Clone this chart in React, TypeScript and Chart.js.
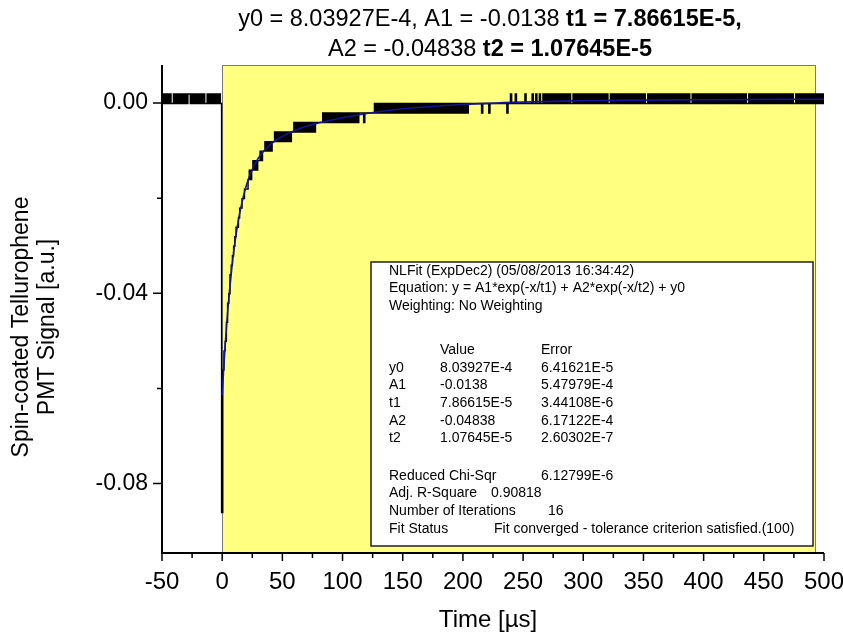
import React, { useEffect, useRef } from "react";
import { Chart, registerables } from "chart.js";

Chart.register(...registerables);

// ---------- axis ticks ----------
const xTickValues = [-50, 0, 50, 100, 150, 200, 250, 300, 350, 400, 450, 500];
const xTickLabels = ["-50", "0", "50", "100", "150", "200", "250", "300", "350", "400", "450", "500"];
const xMinorTickValues = [-25, 25, 75, 125, 175, 225, 275, 325, 375, 425, 475];
const yTickValues = [-0.08, -0.04, 0];
const yTickLabels = ["-0.08", "-0.04", "0.00"];
const yMinorTickValues = [-0.06, -0.02];

// ---------- fit window (yellow region), µs ----------
const fitWindowUs = [0, 493];

// ---------- digitizer levels (signal values, a.u.) ----------
const adcLevels = [
  0.0019, -0.0001, -0.0021, -0.0041, -0.0061, -0.0081, -0.0101, -0.0121, -0.0141, -0.0161,
  -0.0181, -0.0201, -0.0221, -0.0241, -0.0261, -0.0281, -0.0301, -0.0321, -0.0341, -0.0361,
  -0.0381, -0.0401, -0.0421, -0.0441, -0.0461, -0.0481, -0.0501, -0.0521, -0.0541, -0.0561,
  -0.0581, -0.0601, -0.0621, -0.0641, -0.0661, -0.0681, -0.0701, -0.0721, -0.0741, -0.0761,
  -0.0781, -0.0801, -0.0821, -0.0841, -0.0861,
];

// sampling grid of the recorded trace
const SAMPLE_START_US = -50;
const SAMPLE_STEP_US = 1;

// recorded samples (level index into adcLevels), one per µs
// t = -50 .. -1
const preTriggerCodes = [
  1, 0, 1, 0, 1, 0, 1, 0, 1, 1, 0, 1, 0, 1, 0, 1, 0, 1, 0, 1,
  0, 1, 0, 0, 1, 0, 1, 0, 1, 0, 1, 0, 1, 0, 1, 0, 1, 1, 0, 1,
  0, 1, 0, 1, 0, 1, 0, 1, 0, 1,
];
// t = 0 .. 125
const fastDecayCodes = [
  44,
  29, 27, 26, 24, 22, 21, 19, 18, 17, 16, 15, 14, 14, 13, 12, 12, 11, 11, 10, 10,
  10, 9, 8, 9, 8, 7, 8, 7, 8, 7,
  7, 6, 7, 6, 6, 5,
  6, 5, 6, 5, 6, 5, 5, 4, 5,
  4, 5, 4, 5, 4, 5, 4, 5, 4, 5, 4, 5, 4, 4,
  3, 4, 3, 4, 3, 4, 3, 4, 3, 4, 3, 4, 3, 4, 3, 4, 3, 4, 3, 3,
  3, 3, 3, 3,
  2, 3, 2, 3, 2, 3, 2, 3, 2, 3, 2, 3, 2, 3, 2, 3, 2, 3, 2, 3,
  2, 3, 2, 3, 2, 3, 2, 3, 2, 3,
  2, 2, 2, 2, 3, 2, 2, 2, 2, 2, 2, 2,
];
// t = 126 .. 237
const slowTailCodes = [
  2, 1, 2, 1, 2, 1, 2, 1, 2, 1, 2, 1, 2, 1, 2, 1, 2, 1, 2, 1,
  2, 1, 2, 1, 2, 1, 2, 1, 2, 1, 2, 1, 2, 1, 2, 1, 2, 1, 2, 1,
  2, 1, 2, 1, 2, 1, 2, 1, 2, 1, 2, 1, 2, 1, 2, 1, 2, 1, 2, 1,
  2, 1, 2, 1, 2, 1, 2, 1, 2, 1, 2, 1, 2, 1, 2, 1, 2, 1, 2, 1, 1,
  1, 1, 1, 1, 1, 1, 1, 1, 1, 2, 1, 1, 1, 1, 1, 2, 1, 1, 1, 1,
  1, 1, 1, 1, 1, 1, 1, 1, 1, 1, 2,
];
// t = 238 .. 500
const baselineCodes = [
  1, 1, 0, 1, 1, 1, 0, 1, 1, 1, 1, 1, 1, 1, 0, 1, 1, 1, 1, 1,
  0, 1, 1, 0, 1, 1, 0, 1,
  1, 0, 1, 0, 1, 0, 1, 0, 1, 0, 1, 0, 1, 0, 1, 0, 1, 0, 1, 0,
  1, 0, 1, 0, 1, 1, 0, 1, 0, 1, 0, 1, 0, 1, 0, 1, 0, 1, 0, 1,
  0, 1, 0, 1, 0, 1, 0, 1, 0, 1, 0, 1, 0, 1, 0, 1, 1, 0, 1, 0,
  1, 0, 1, 0, 1, 0, 1, 0, 1, 0, 1, 0, 1, 0, 1, 0, 1, 0, 1, 0,
  1, 0, 1, 0, 1, 0, 1, 1, 0, 1, 0, 1, 0, 1, 0, 1, 0, 1, 0, 1,
  0, 1, 0, 1, 0, 1, 0, 1, 0, 1, 0, 1, 0, 1, 0, 1, 0, 1, 0, 1,
  0, 1, 0, 1, 1, 0, 1, 0, 1, 0, 1, 0, 1, 0, 1, 0, 1, 0, 1, 0,
  1, 0, 1, 0, 1, 0, 1, 0, 1, 0, 1, 0, 1, 0, 1, 0, 1, 0, 1, 0,
  1, 0, 1, 0, 1, 0, 1, 0, 1, 0, 1, 1, 0, 1, 0, 1, 0, 1, 0, 1,
  0, 1, 0, 1, 0, 1, 0, 1, 0, 1, 0, 1, 0, 1, 0, 1, 0, 1, 0, 1,
  0, 1, 0, 1, 0, 1, 0, 1, 0, 1, 1, 0, 1, 0, 1, 0, 1, 0, 1, 0,
  1, 0, 1, 0, 1, 0, 1, 0, 1, 0, 1, 0, 1, 0, 1,
];

// ---------- fitted curve ----------
const fitTimesUs = [0, 1, 2, 3, 4, 5, 6, 8, 10, 12, 15, 20, 25, 30, 40, 50, 60, 70, 80, 100, 120, 150, 200, 250, 300, 400, 500];
const fitSignal = [
  -0.0614, -0.0569, -0.0528, -0.0491, -0.0457, -0.0425, -0.0397, -0.0347, -0.0304, -0.0269,
  -0.0226, -0.0174, -0.014, -0.0116, -0.0087, -0.007, -0.0058, -0.0049, -0.0042, -0.0031,
  -0.0022, -0.0012, -0.0003, 0.0002, 0.0005, 0.0007, 0.0008,
];

// ---------- texts ----------
const titleLine1 = [
  { text: "y0 = 8.03927E-4, A1 = -0.0138 ", bold: false },
  { text: "t1 = 7.86615E-5,", bold: true },
];
const titleLine2 = [
  { text: "A2 = -0.04838 ", bold: false },
  { text: "t2 = 1.07645E-5", bold: true },
];
const xAxisTitle = "Time [µs]";
const yAxisTitle = ["Spin-coated Tellurophene", "PMT Signal [a.u.]"];
const fitHeaderLines = [
  "NLFit (ExpDec2) (05/08/2013 16:34:42)",
  "Equation: y = A1*exp(-x/t1) + A2*exp(-x/t2) + y0",
  "Weighting: No Weighting",
];
const paramNames = ["y0", "A1", "t1", "A2", "t2"];
const paramValues = ["8.03927E-4", "-0.0138", "7.86615E-5", "-0.04838", "1.07645E-5"];
const paramErrors = ["6.41621E-5", "5.47979E-4", "3.44108E-6", "6.17122E-4", "2.60302E-7"];

const FONT = "'Liberation Sans', Arial, sans-serif";

function buildTrace() {
  const codes = [...preTriggerCodes, ...fastDecayCodes, ...slowTailCodes, ...baselineCodes];
  return codes.map((c, i) => ({ x: SAMPLE_START_US + i * SAMPLE_STEP_US, y: adcLevels[c] }));
}

const decorPlugin = {
  id: "decor",
  beforeDatasetsDraw(chart: any) {
    const { ctx, chartArea, scales } = chart;
    const x0 = scales.x.getPixelForValue(fitWindowUs[0]);
    const x1 = scales.x.getPixelForValue(fitWindowUs[1]);
    ctx.save();
    ctx.fillStyle = "rgb(255,255,128)";
    ctx.fillRect(x0, chartArea.top, x1 - x0, chartArea.bottom - chartArea.top);
    ctx.strokeStyle = "#7a7a7a";
    ctx.lineWidth = 1;
    ctx.strokeRect(Math.round(x0) + 0.5, chartArea.top + 0.5, Math.round(x1 - x0), chartArea.bottom - chartArea.top);
    ctx.restore();
  },
  afterDatasetsDraw(chart: any) {
    const { ctx, chartArea, scales } = chart;
    const { left, right, top, bottom } = chartArea;
    ctx.save();
    // fit report box
    const bx = 371, by = 262, bw = 442, bh = 284;
    ctx.fillStyle = "#ffffff";
    ctx.fillRect(bx, by, bw, bh);
    ctx.strokeStyle = "#222";
    ctx.lineWidth = 1.5;
    ctx.strokeRect(bx, by, bw, bh);
    ctx.fillStyle = "#000";
    ctx.font = `14px ${FONT}`;
    ctx.textAlign = "left";
    ctx.textBaseline = "middle";
    const c0 = 389, c1 = 440, c2 = 541;
    fitHeaderLines.forEach((t, i) => ctx.fillText(t, c0, 271 + i * 17.6));
    ctx.fillText("Value", c1, 350);
    ctx.fillText("Error", c2, 350);
    paramNames.forEach((n, i) => {
      const y = 368 + i * 17.6;
      ctx.fillText(n, c0, y);
      ctx.fillText(paramValues[i], c1, y);
      ctx.fillText(paramErrors[i], c2, y);
    });
    ctx.fillText("Reduced Chi-Sqr", c0, 476);
    ctx.fillText("6.12799E-6", c2, 476);
    ctx.fillText("Adj. R-Square", c0, 493.5);
    ctx.fillText("0.90818", 491, 493.5);
    ctx.fillText("Number of Iterations", c0, 511);
    ctx.fillText("16", 548, 511);
    ctx.fillText("Fit Status", c0, 529);
    ctx.fillText("Fit converged - tolerance criterion satisfied.(100)", 494, 529);

    // axes
    ctx.strokeStyle = "#000";
    ctx.lineWidth = 2;
    ctx.beginPath();
    ctx.moveTo(left, top);
    ctx.lineTo(left, bottom);
    ctx.lineTo(right, bottom);
    ctx.stroke();
    ctx.lineWidth = 1.5;
    ctx.beginPath();
    xTickValues.forEach((v) => {
      const px = scales.x.getPixelForValue(v);
      ctx.moveTo(px, bottom);
      ctx.lineTo(px, bottom + 8);
    });
    xMinorTickValues.forEach((v) => {
      const px = scales.x.getPixelForValue(v);
      ctx.moveTo(px, bottom);
      ctx.lineTo(px, bottom + 5);
    });
    yTickValues.forEach((v) => {
      const py = scales.y.getPixelForValue(v);
      ctx.moveTo(left, py);
      ctx.lineTo(left - 9, py);
    });
    yMinorTickValues.forEach((v) => {
      const py = scales.y.getPixelForValue(v);
      ctx.moveTo(left, py);
      ctx.lineTo(left - 5, py);
    });
    ctx.stroke();
    ctx.restore();
  },
  afterDraw(chart: any) {
    const { ctx } = chart;
    ctx.save();
    ctx.fillStyle = "#000";
    ctx.textBaseline = "alphabetic";
    ctx.textAlign = "left";
    const drawLine = (segs: { text: string; bold: boolean }[], cx: number, y: number) => {
      let total = 0;
      segs.forEach((s) => {
        ctx.font = `${s.bold ? "bold " : ""}23.5px ${FONT}`;
        total += ctx.measureText(s.text).width;
      });
      let x = cx - total / 2;
      segs.forEach((s) => {
        ctx.font = `${s.bold ? "bold " : ""}23.5px ${FONT}`;
        ctx.fillText(s.text, x, y);
        x += ctx.measureText(s.text).width;
      });
    };
    drawLine(titleLine1, 490, 26);
    drawLine(titleLine2, 490, 56);

    ctx.font = `24px ${FONT}`;
    ctx.textAlign = "center";
    ctx.fillText(xAxisTitle, 488, 627);

    ctx.font = `23px ${FONT}`;
    ctx.textBaseline = "middle";
    yAxisTitle.forEach((t, i) => {
      ctx.save();
      ctx.translate(22 + i * 26, 327);
      ctx.rotate(-Math.PI / 2);
      ctx.fillText(t, 0, 0);
      ctx.restore();
    });
    ctx.restore();
  },
};

export default function App() {
  const canvasRef = useRef<HTMLCanvasElement | null>(null);

  useEffect(() => {
    if (!canvasRef.current) return;
    const trace = buildTrace();
    const fit = fitTimesUs.map((t, i) => ({ x: t, y: fitSignal[i] }));
    const chart = new Chart(canvasRef.current, {
      type: "line",
      data: {
        datasets: [
          {
            label: "Fit",
            data: fit,
            borderColor: "rgb(20,20,150)",
            borderWidth: 1.6,
            pointRadius: 0,
            cubicInterpolationMode: "monotone",
            fill: false,
          },
          {
            label: "Signal",
            data: trace,
            borderColor: "#000",
            borderWidth: 1.4,
            pointRadius: 0,
            stepped: "middle",
            fill: false,
          },
        ],
      },
      options: {
        animation: false,
        responsive: false,
        maintainAspectRatio: false,
        events: [],
        layout: { padding: { top: 65, right: 19, bottom: 0, left: 0 } },
        plugins: {
          legend: { display: false },
          title: { display: false },
          tooltip: { enabled: false },
        },
        scales: {
          x: {
            type: "linear",
            min: -50,
            max: 500,
            afterBuildTicks: (s: any) => {
              s.ticks = xTickValues.map((v) => ({ value: v }));
            },
            afterFit: (s: any) => {
              s.height = 80;
              s.paddingLeft = 0;
              s.paddingRight = 0;
            },
            grid: { display: false, drawTicks: false },
            border: { display: false },
            ticks: {
              autoSkip: false,
              maxRotation: 0,
              padding: 15,
              color: "#000",
              font: { family: FONT, size: 24 },
              callback: (v: any) => xTickLabels[xTickValues.indexOf(Number(v))] ?? "",
            },
          },
          y: {
            type: "linear",
            min: -0.0946,
            max: 0.008,
            afterBuildTicks: (s: any) => {
              s.ticks = yTickValues.map((v) => ({ value: v }));
            },
            afterFit: (s: any) => {
              s.width = 162;
              s.paddingTop = 0;
              s.paddingBottom = 0;
            },
            grid: { display: false, drawTicks: false },
            border: { display: false },
            ticks: {
              autoSkip: false,
              padding: 14,
              color: "#000",
              font: { family: FONT, size: 23 },
              callback: (v: any) => {
                const i = yTickValues.findIndex((t) => Math.abs(t - Number(v)) < 1e-9);
                return i >= 0 ? yTickLabels[i] : "";
              },
            },
          },
        },
      },
      plugins: [decorPlugin],
    } as any);
    return () => chart.destroy();
  }, []);

  return (
    <div style={{ position: "absolute", left: 0, top: 0, width: 843, height: 633, background: "#fff" }}>
      <canvas ref={canvasRef} width={843} height={633} style={{ display: "block" }} />
    </div>
  );
}
